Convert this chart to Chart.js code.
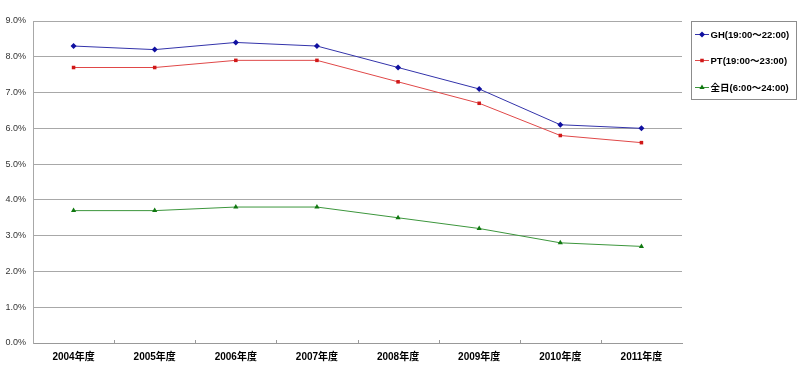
<!DOCTYPE html>
<html>
<head>
<meta charset="utf-8">
<script src="https://cdn.jsdelivr.net/npm/chart.js@4"></script>
<style>
  body { margin: 0; background: #fff; }
</style>
</head>
<body>
<canvas id="line-chart" width="800" height="370"></canvas>
<script>
var years = ["2004年度", "2005年度", "2006年度", "2007年度", "2008年度", "2009年度", "2010年度", "2011年度"];
var seriesNames = ["GH(19:00～22:00)", "PT(19:00～23:00)", "全日(6:00～24:00)"];
var ghValues = [8.3, 8.2, 8.4, 8.3, 7.7, 7.1, 6.1, 6.0];
var ptValues = [7.7, 7.7, 7.9, 7.9, 7.3, 6.7, 5.8, 5.6];
var allDayValues = [3.7, 3.7, 3.8, 3.8, 3.5, 3.2, 2.8, 2.7];
var yMax = 9;

var fontFamily = '"Liberation Sans", "Noto Sans CJK JP", sans-serif';

function makeSet(label, values, color, pointColor, shape, radius){
  return {
    label: label,
    data: values,
    borderColor: color,
    backgroundColor: pointColor,
    pointBackgroundColor: pointColor,
    pointBorderColor: pointColor,
    pointStyle: shape,
    pointRadius: radius,
    pointBorderWidth: 0,
    borderWidth: 1,
    tension: 0
  };
}

// inward ticks on the category axis + boxed legend on the right
var extras = {
  id: 'extras',
  afterDraw: function(chart){
    var ctx = chart.ctx;
    var xs = chart.scales.x;
    var area = chart.chartArea;
    var step = xs.getPixelForValue(1) - xs.getPixelForValue(0);
    ctx.save();
    ctx.strokeStyle = '#999';
    ctx.lineWidth = 1;
    for (var i = 1; i < years.length; i++) {
      var px = Math.round(xs.getPixelForValue(i) - step / 2) + 0.5;
      ctx.beginPath();
      ctx.moveTo(px, area.bottom);
      ctx.lineTo(px, area.bottom - 3);
      ctx.stroke();
    }

    // legend
    ctx.strokeStyle = '#8c8c8c';
    ctx.strokeRect(691.5, 21.5, 105, 78);
    var rows = [34, 60, 87];
    ctx.font = 'bold 9.5px ' + fontFamily;
    ctx.textBaseline = 'middle';
    ctx.textAlign = 'left';
    chart.data.datasets.forEach(function(ds, k){
      var y = rows[k] + 0.5;
      ctx.strokeStyle = ds.borderColor;
      ctx.beginPath();
      ctx.moveTo(695, y);
      ctx.lineTo(709, y);
      ctx.stroke();
      ctx.fillStyle = ds.pointBackgroundColor;
      Chart.helpers.drawPoint(ctx, {pointStyle: ds.pointStyle, radius: ds.pointRadius, borderWidth: 0}, 702, y);
      ctx.fillStyle = '#000';
      ctx.fillText(ds.label, 710.5, y + 1);
    });
    ctx.restore();
  }
};

new Chart(document.getElementById("line-chart"), {
  type: 'line',
  data: {
    labels: years,
    datasets: [
      makeSet(seriesNames[0], ghValues, '#3333aa', '#1010a0', 'rectRot', 3),
      makeSet(seriesNames[1], ptValues, '#e04848', '#d01818', 'rect', 2.5),
      makeSet(seriesNames[2], allDayValues, '#3c963c', '#107810', 'triangle', 3)
    ]
  },
  options: {
    responsive: false,
    animation: false,
    layout: { padding: { top: 21, right: 118, left: 0, bottom: 0 } },
    plugins: {
      legend: { display: false },
      tooltip: { enabled: false }
    },
    scales: {
      x: {
        offset: true,
        afterFit: function(s){ s.height = 27; },
        grid: { display: true, drawOnChartArea: false, drawTicks: false, color: 'rgba(0,0,0,0)' },
        border: { color: '#999', width: 1 },
        ticks: {
          color: '#000',
          padding: 8,
          font: { family: fontFamily, size: 10, weight: 'bold' }
        }
      },
      y: {
        min: 0,
        max: yMax,
        afterFit: function(s){ s.width = 33; },
        grid: { color: '#a8a8a8', drawTicks: false },
        border: { color: '#a8a8a8', width: 1 },
        ticks: {
          stepSize: 1,
          padding: 7,
          color: '#333',
          font: { family: fontFamily, size: 9 },
          callback: function(v){ return v.toFixed(1) + '%'; }
        }
      }
    }
  },
  plugins: [extras]
});
</script>
</body>
</html>
